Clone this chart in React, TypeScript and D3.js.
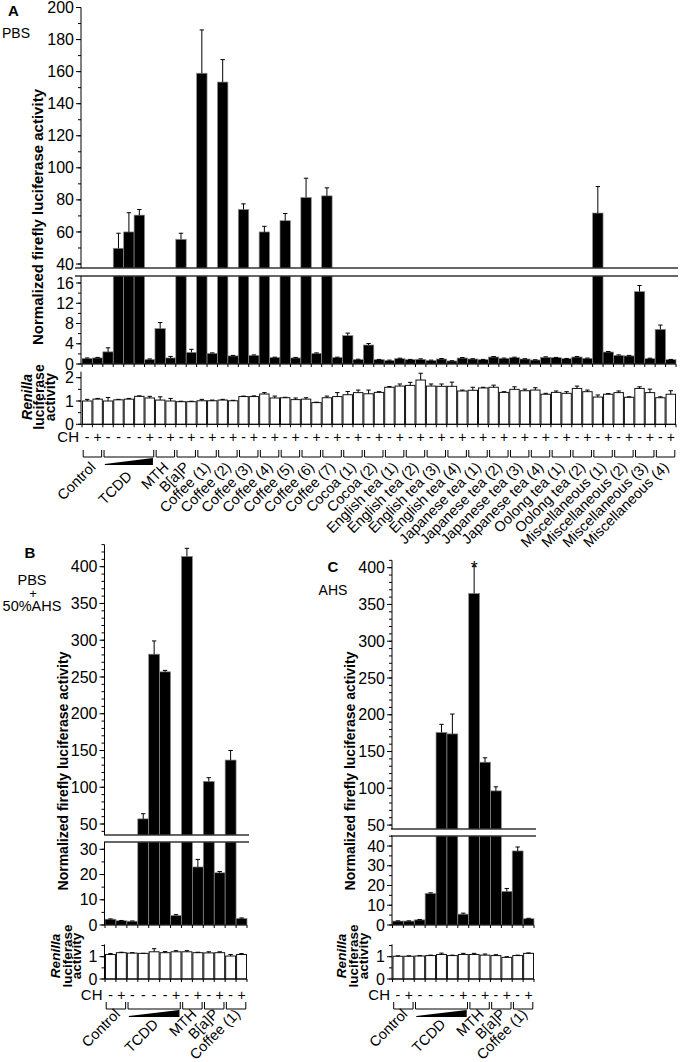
import React from "react";
import * as d3 from "d3";

// ---------------- DATA ----------------
const groupsA = [
  "Control", "TCDD", "MTH", "B[a]P",
  "Coffee (1)", "Coffee (2)", "Coffee (3)", "Coffee (4)", "Coffee (5)", "Coffee (6)", "Coffee (7)",
  "Cocoa (1)", "Cocoa (2)",
  "English tea (1)", "English tea (2)", "English tea (3)", "English tea (4)",
  "Japanese tea (1)", "Japanese tea (2)", "Japanese tea (3)", "Japanese tea (4)",
  "Oolong tea (1)", "Oolong tea (2)",
  "Miscellaneous (1)", "Miscellaneous (2)", "Miscellaneous (3)", "Miscellaneous (4)",
];
const groupSizesA = [2, 5, 2, 2, 2, 2, 2, 2, 2, 2, 2, 2, 2, 2, 2, 2, 2, 2, 2, 2, 2, 2, 2, 2, 2, 2, 2];
const chA = "-+----+-+-+-+-+-+-+-+-+-+-+-+-+-+-+-+-+-+-+-+-+-+-+-+-+-+".split("");

const fireflyA = [
  1.1, 1.2, 2.4, 49.8, 60, 70.5, 0.9, 7.0, 1.2, 55.4,
  2.3, 159, 2.1, 153.5, 1.6, 74, 1.7, 60, 1.3, 67,
  1.2, 81.5, 2.1, 82.5, 1.3, 5.6, 0.9, 3.75, 0.86, 0.72,
  1.05, 0.86, 0.92, 0.72, 0.99, 0.6, 1.18, 0.99, 0.86, 1.38,
  1.12, 1.25, 0.99, 0.79, 1.32, 1.25, 1.05, 1.38, 1.12, 71.8,
  2.37, 1.7, 1.6, 14.3, 1.05, 6.84, 0.86,
];
const fireflySdA = [
  0.1, 0.1, 0.8, 9.4, 12, 3.5, 0.1, 1.2, 0.3, 3.8,
  0.6, 27, 0.1, 14, 0.1, 3.5, 0.1, 3.5, 0.05, 4.5,
  0.1, 12, 0.1, 5, 0.05, 0.5, 0.05, 0.3, 0.05, 0.05,
  0.1, 0.05, 0.1, 0.05, 0.1, 0.05, 0.1, 0.05, 0.05, 0.1,
  0.05, 0.1, 0.05, 0.05, 0.1, 0.05, 0.05, 0.1, 0.05, 16.5,
  0.1, 0.1, 0.1, 1.2, 0.1, 0.85, 0.05,
];
const renillaA = [
  1.0, 1.08, 1.0, 1.05, 1.08, 1.2, 1.13, 1.04, 1.0, 0.97,
  0.97, 1.01, 1.01, 1.04, 1.01, 1.19, 1.19, 1.3, 1.13, 1.14,
  1.06, 1.08, 0.93, 1.14, 1.19, 1.27, 1.36, 1.31, 1.37, 1.59,
  1.64, 1.67, 1.9, 1.64, 1.63, 1.63, 1.43, 1.46, 1.56, 1.59,
  1.37, 1.5, 1.44, 1.47, 1.29, 1.37, 1.33, 1.54, 1.4, 1.17,
  1.29, 1.36, 1.16, 1.54, 1.36, 1.14, 1.29,
];
const renillaSdA = [
  0.07, 0.03, 0.15, 0.02, 0.03, 0.02, 0.07, 0.14, 0.11, 0.02,
  0.02, 0.06, 0.03, 0.03, 0.02, 0.02, 0.03, 0.06, 0.08, 0.02,
  0.07, 0.06, 0.02, 0.07, 0.17, 0.14, 0.11, 0.16, 0.03, 0.03,
  0.09, 0.13, 0.29, 0.09, 0.1, 0.18, 0.04, 0.13, 0.03, 0.09,
  0.03, 0.11, 0.07, 0.1, 0.04, 0.06, 0.07, 0.1, 0.07, 0.09,
  0.03, 0.07, 0.02, 0.07, 0.15, 0.04, 0.15,
];

const groupsBC = ["Control", "TCDD", "MTH", "B[a]P", "Coffee (1)"];
const groupSizesBC = [2, 5, 2, 2, 2];
const chBC = "-+----+-+-+-+".split("");

const fireflyB = [2.3, 1.7, 1.5, 57, 281, 257, 3.8, 414, 23, 108, 20.7, 137, 2.6];
const fireflySdB = [0.1, 0.1, 0.1, 7, 18, 2, 0.3, 11, 3, 5, 0.5, 13, 0.2];
const renillaB = [1.1, 1.18, 1.16, 1.15, 1.22, 1.18, 1.22, 1.22, 1.18, 1.17, 1.18, 1.03, 1.1];
const renillaSdB = [0.04, 0.02, 0.02, 0, 0.14, 0.05, 0.05, 0.05, 0.02, 0.05, 0.04, 0.07, 0.04];

const fireflyC = [2.0, 2.0, 2.6, 16, 176, 174, 5.5, 365, 135.5, 96.5, 17, 37.5, 3.2];
const fireflySdC = [0.1, 0.1, 0.2, 0.3, 11, 27, 0.5, 37, 6, 5.5, 1.5, 2, 0.2];
const renillaC = [1.02, 1.02, 1.03, 1.05, 1.1, 1.05, 1.1, 1.1, 1.07, 1.05, 0.97, 1.05, 1.15];
const renillaSdC = [0.02, 0.02, 0.02, 0.02, 0.06, 0.02, 0.05, 0.05, 0.05, 0.04, 0.03, 0.02, 0.02];

const ticksAUpper = [40, 60, 80, 100, 120, 140, 160, 180, 200];
const ticksALower = [0, 4, 8, 12, 16];
const ticksARen = [0, 1, 2];
const ticksBUpper = [50, 100, 150, 200, 250, 300, 350, 400];
const ticksBLower = [0, 10, 20, 30];
const ticksCUpper = [50, 100, 150, 200, 250, 300, 350, 400];
const ticksCLower = [0, 10, 20, 30, 40];
const ticksRenBC = [0, 1];

// ---------------- LAYOUT ----------------
const FONT = "'Liberation Sans', Arial, Helvetica, sans-serif";

const cfgA = {
  axisX: 81, x0: 82, x1: 676,
  uDom: [40, 200], uRange: [264, 7.5], uTop: 200, uMinor: 10, uTicks: ticksAUpper,
  lDom: [0, 16], lRange: [364, 283], lMinor: 2, lTicks: ticksALower,
  breakTop: 268, breakBottom: 276, bx0: 75, bx1: 678,
  rDom: [0, 2], rRange: [424.3, 377.7], rTop: 2.26, rMinor: 0.5, rTicks: ticksARen,
  tickFont: 16, chY: 442, brTop: 450, brBot: 457, wedgeTop: 458, wedgeBot: 465,
  labY: 468, tcddY: 477, labDx: 4, labFont: 14.5,
  titleX: 43, titleY: 217, titleFont: 15,
  renX: [32, 44, 55], renY: 397, renFont: 14,
};
const cfgB = {
  axisX: 104.5, x0: 105, x1: 247,
  uDom: [50, 400], uRange: [824, 566.7], uTop: 430, uMinor: 10, uTicks: ticksBUpper,
  lDom: [0, 30], lRange: [925, 849.3], lMinor: 5, lTicks: ticksBLower,
  breakTop: 835, breakBottom: 842, bx0: 104, bx1: 249,
  rDom: [0, 1], rRange: [979, 956.7], rTop: 1.55, rMinor: 0.5, rTicks: ticksRenBC,
  tickFont: 16, chY: 1000, brTop: 1002, brBot: 1009, wedgeTop: 1010, wedgeBot: 1017,
  labY: 1015, tcddY: 1025, labDx: 5, labFont: 14.5,
  titleX: 68, titleY: 771, titleFont: 14,
  renX: [60, 72, 81], renY: 956, renFont: 13.5,
};
const cfgC = {
  axisX: 392, x0: 392.5, x1: 534,
  uDom: [100, 400], uRange: [788.3, 567.7], uTop: 410, uMinor: 10, uTicks: ticksCUpper,
  lDom: [0, 40], lRange: [925, 846], lMinor: 5, lTicks: ticksCLower,
  breakTop: 829, breakBottom: 836, bx0: 391, bx1: 536,
  rDom: [0, 1], rRange: [979, 956.7], rTop: 1.55, rMinor: 0.5, rTicks: ticksRenBC,
  tickFont: 16, chY: 1000, brTop: 1002, brBot: 1009, wedgeTop: 1010, wedgeBot: 1017,
  labY: 1015, tcddY: 1025, labDx: 5, labFont: 14.5,
  titleX: 355, titleY: 771, titleFont: 14,
  renX: [346, 358, 368], renY: 956, renFont: 13.5,
};

function Panel({ cfg, groups, sizes, ch, ff, ffSd, ren, renSd, starIndex }: any) {
  const n = ff.length;
  const x = d3.scaleBand<number>().domain(d3.range(n)).range([cfg.x0, cfg.x1]).paddingInner(0).paddingOuter(0);
  const bw = x.bandwidth();
  const yU = d3.scaleLinear().domain(cfg.uDom).range(cfg.uRange);
  const yL = d3.scaleLinear().domain(cfg.lDom).range(cfg.lRange);
  const yR = d3.scaleLinear().domain(cfg.rDom).range(cfg.rRange);
  const lowMax = yL.invert(cfg.breakBottom);
  const uMin = yU.invert(cfg.breakTop);
  const yv = (v: number) => (v <= lowMax ? yL(v) : yU(v));
  const base = yL(0);
  const rBase = yR(0);
  const ax = cfg.axisX;

  let acc = 0;
  const gpos = sizes.map((s: number, i: number) => {
    const start = x(acc)!;
    acc += s;
    return { name: groups[i], start, end: start + s * bw, cx: start + (s * bw) / 2 };
  });

  const uMinorVals = d3.range(Math.ceil(uMin / cfg.uMinor) * cfg.uMinor, cfg.uTop + 1e-6, cfg.uMinor);
  const lMinorVals = d3.range(0, lowMax + 1e-6, cfg.lMinor);
  const rMinorVals = d3.range(0, cfg.rTop + 1e-6, cfg.rMinor);

  const tick = (y: number, len: number, key: string) => (
    <line key={key} x1={ax - len} x2={ax} y1={y} y2={y} stroke="#000" strokeWidth={1} />
  );
  const tlabel = (y: number, t: number, key: string) => (
    <text key={key} x={ax - 7} y={y} dy="0.35em" textAnchor="end" fontSize={cfg.tickFont} fill="#000">{t}</text>
  );

  const tcdd = gpos[1];

  return (
    <g fontFamily={FONT}>
      {/* firefly bars */}
      {ff.map((v: number, i: number) => (
        <rect key={"b" + i} x={x(i)} y={yv(v)} width={bw} height={base - yv(v)} fill="#000" stroke="#8c8c8c" strokeWidth={0.7} />
      ))}
      {ff.map((v: number, i: number) => {
        const cx = x(i)! + bw / 2;
        const yt = yv(v + ffSd[i]);
        return (
          <g key={"e" + i} stroke="#000" strokeWidth={1}>
            <line x1={cx} x2={cx} y1={yv(v)} y2={yt} />
            <line x1={cx - 2.2} x2={cx + 2.2} y1={yt} y2={yt} />
          </g>
        );
      })}
      {starIndex != null && (
        <text x={x(starIndex)! + bw / 2} y={yv(ff[starIndex] + ffSd[starIndex]) + 8} textAnchor="middle" fontSize={18} fill="#000">*</text>
      )}
      {/* axis break */}
      <rect x={cfg.bx0} y={cfg.breakTop} width={cfg.bx1 - cfg.bx0} height={cfg.breakBottom - cfg.breakTop} fill="#fff" />
      <line x1={cfg.bx0} x2={cfg.bx1} y1={cfg.breakTop} y2={cfg.breakTop} stroke="#333" strokeWidth={1.4} />
      <line x1={cfg.bx0} x2={cfg.bx1} y1={cfg.breakBottom} y2={cfg.breakBottom} stroke="#333" strokeWidth={1.4} />

      {/* upper axis */}
      <line x1={ax} x2={ax} y1={yU(cfg.uTop)} y2={cfg.breakTop} stroke="#000" strokeWidth={1} />
      {uMinorVals.map((t: number) => tick(yU(t), 3, "um" + t))}
      {cfg.uTicks.filter((t: number) => t >= uMin).map((t: number) => tick(yU(t), 5, "uM" + t))}
      {cfg.uTicks.filter((t: number) => t >= uMin).map((t: number) => tlabel(yU(t), t, "ul" + t))}

      {/* lower axis */}
      <line x1={ax} x2={ax} y1={cfg.breakBottom} y2={base} stroke="#000" strokeWidth={1} />
      {lMinorVals.map((t: number) => tick(yL(t), 3, "lm" + t))}
      {cfg.lTicks.map((t: number) => tick(yL(t), 5, "lM" + t))}
      {cfg.lTicks.map((t: number) => tlabel(yL(t), t, "ll" + t))}
      <line x1={ax} x2={cfg.x1} y1={base} y2={base} stroke="#000" strokeWidth={1} />
      {d3.range(n + 1).map((i) => {
        const xx = i < n ? x(i)! : cfg.x1;
        return <line key={"xt" + i} x1={xx} x2={xx} y1={base} y2={base + 3} stroke="#000" strokeWidth={1} />;
      })}

      {/* renilla */}
      {ren.map((v: number, i: number) => (
        <rect key={"r" + i} x={x(i)! + 0.5} y={yR(v)} width={bw - 1} height={rBase - yR(v)} fill="#fff" stroke="#111" strokeWidth={1} />
      ))}
      {ren.map((v: number, i: number) => {
        const cx = x(i)! + bw / 2;
        const yt = yR(v + renSd[i]);
        return (
          <g key={"re" + i} stroke="#000" strokeWidth={1}>
            <line x1={cx} x2={cx} y1={yR(v)} y2={yt} />
            <line x1={cx - 2.2} x2={cx + 2.2} y1={yt} y2={yt} />
          </g>
        );
      })}
      <line x1={ax} x2={ax} y1={yR(cfg.rTop)} y2={rBase} stroke="#000" strokeWidth={1} />
      {rMinorVals.map((t: number) => tick(yR(t), 3, "rm" + t))}
      {cfg.rTicks.map((t: number) => tick(yR(t), 5, "rM" + t))}
      {cfg.rTicks.map((t: number) => tlabel(yR(t), t, "rl" + t))}
      <line x1={ax} x2={cfg.x1} y1={rBase} y2={rBase} stroke="#000" strokeWidth={1} />
      {d3.range(n + 1).map((i) => {
        const xx = i < n ? x(i)! : cfg.x1;
        return <line key={"rt" + i} x1={xx} x2={xx} y1={rBase} y2={rBase + 3} stroke="#000" strokeWidth={1} />;
      })}

      {/* CH row */}
      <text x={ax - 2} y={cfg.chY} textAnchor="end" fontSize={15} fill="#000">CH</text>
      {ch.map((s: string, i: number) => (
        <text key={"c" + i} x={x(i)! + bw / 2} y={cfg.chY} textAnchor="middle" fontSize={14} fill="#000">{s === "-" ? "-" : "+"}</text>
      ))}

      {/* brackets */}
      {gpos.map((g: any, i: number) => (
        <path key={"br" + i} d={`M${g.start + 1.2},${cfg.brTop}V${cfg.brBot}H${g.end - 1.2}V${cfg.brTop}`} fill="none" stroke="#000" strokeWidth={1} />
      ))}
      <polygon
        points={`${tcdd.start + 2},${cfg.wedgeBot - 1} ${tcdd.end - 2},${cfg.wedgeTop} ${tcdd.end - 2},${cfg.wedgeBot} ${tcdd.start + 2},${cfg.wedgeBot}`}
        fill="#000"
      />
      {gpos.map((g: any, i: number) => (
        <text key={"gl" + i} transform={`translate(${g.cx + cfg.labDx},${i === 1 ? cfg.tcddY : cfg.labY}) rotate(-45)`} textAnchor="end" fontSize={cfg.labFont} fill="#000">
          {g.name}
        </text>
      ))}

      {/* titles */}
      <text transform={`translate(${cfg.titleX},${cfg.titleY}) rotate(-90)`} textAnchor="middle" fontWeight="bold" fontSize={cfg.titleFont} fill="#000">
        Normalized firefly luciferase activity
      </text>
      <text transform={`translate(${cfg.renX[0]},${cfg.renY}) rotate(-90)`} textAnchor="middle" fontWeight="bold" fontStyle="italic" fontSize={cfg.renFont} fill="#000">Renilla</text>
      <text transform={`translate(${cfg.renX[1]},${cfg.renY}) rotate(-90)`} textAnchor="middle" fontWeight="bold" fontSize={cfg.renFont} fill="#000">luciferase</text>
      <text transform={`translate(${cfg.renX[2]},${cfg.renY}) rotate(-90)`} textAnchor="middle" fontWeight="bold" fontSize={cfg.renFont} fill="#000">activity</text>
    </g>
  );
}

export default function App() {
  return (
    <svg width={680} height={1062} style={{ position: "absolute", left: 0, top: 0, background: "#fff" }} fontFamily={FONT}>
      <rect x={0} y={0} width={680} height={1062} fill="#fff" />
      <text x={8} y={16} fontWeight="bold" fontSize={15}>A</text>
      <text x={2} y={38} fontSize={14}>PBS</text>
      <Panel cfg={cfgA} groups={groupsA} sizes={groupSizesA} ch={chA} ff={fireflyA} ffSd={fireflySdA} ren={renillaA} renSd={renillaSdA} />

      <text x={30} y={558} textAnchor="middle" fontWeight="bold" fontSize={15}>B</text>
      <text x={32} y={585} textAnchor="middle" fontSize={14.5}>PBS</text>
      <text x={33} y={598} textAnchor="middle" fontSize={13}>+</text>
      <text x={32} y={611} textAnchor="middle" fontSize={14.5}>50%AHS</text>
      <Panel cfg={cfgB} groups={groupsBC} sizes={groupSizesBC} ch={chBC} ff={fireflyB} ffSd={fireflySdB} ren={renillaB} renSd={renillaSdB} />

      <text x={333} y={572} textAnchor="middle" fontWeight="bold" fontSize={15}>C</text>
      <text x={333} y={595} textAnchor="middle" fontSize={14}>AHS</text>
      <Panel cfg={cfgC} groups={groupsBC} sizes={groupSizesBC} ch={chBC} ff={fireflyC} ffSd={fireflySdC} ren={renillaC} renSd={renillaSdC} starIndex={7} />
    </svg>
  );
}
